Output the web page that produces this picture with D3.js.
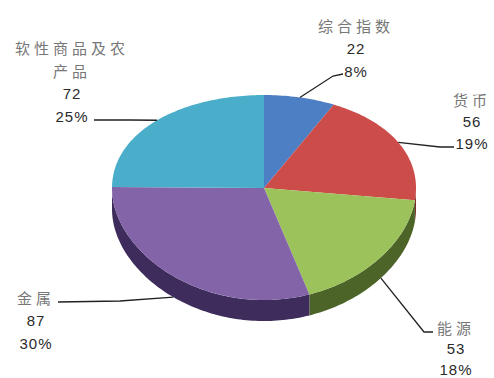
<!DOCTYPE html>
<html>
<head>
<meta charset="utf-8">
<script src="https://cdn.jsdelivr.net/npm/d3@7"></script>
<style>
  body { margin: 0; background: #fff; }
  svg { display: block; }
</style>
</head>
<body>
<div id="chart"></div>
<script>
// data
var categories = ["综合指数", "货币", "能源", "金属", "软性商品及农产品"];
var values = [22, 56, 53, 87, 72];
var percents = ["8%", "19%", "18%", "30%", "25%"];

var topColors = ["#4c7fc4", "#cc4c4a", "#9cc25b", "#8464a8", "#4aadc9"];
var sideColors = ["#2c4a78", "#7c2c2a", "#4d6428", "#3e2d5c", "#2a6a7c"];

var width = 494, height = 378;
var cx = 264, cy = 188, rx = 152, a = 101.6, k = 0.093, depth = 21;

var svg = d3.select("#chart").append("svg")
  .attr("width", width)
  .attr("height", height);

// projection of a pie angle (0 = 12 o'clock, clockwise) onto the tilted disc
function proj(t, dz) {
  var u = Math.sin(t), v = -Math.cos(t);
  return [cx + rx * u, cy + a * v / (1 - k * v) + (dz || 0)];
}

function arcPoints(a0, a1, dz) {
  var n = Math.max(2, Math.ceil((a1 - a0) / 0.02));
  return d3.range(n + 1).map(function(i) { return proj(a0 + (a1 - a0) * i / n, dz); });
}

var pie = d3.pie().sort(null).value(function(d) { return d; });
var arcs = pie(values);

var line = d3.line();

// side walls (only the front half is visible)
var g = svg.append("g");
arcs.forEach(function(d, i) {
  var s = Math.max(d.startAngle, Math.PI / 2), e = Math.min(d.endAngle, Math.PI * 1.5);
  if (e <= s) return;
  var top = arcPoints(s, e, 0), bot = arcPoints(s, e, depth).reverse();
  g.append("path")
    .attr("d", line(top.concat(bot)) + "Z")
    .attr("fill", sideColors[i]);
});

// top surface
arcs.forEach(function(d, i) {
  var pts = [[cx, cy]].concat(arcPoints(d.startAngle, d.endAngle, 0));
  g.append("path")
    .attr("d", line(pts) + "Z")
    .attr("fill", topColors[i]);
});

// label text: name, value, percent
var labelLines = categories.map(function(c, i) {
  var name = c.length > 6 ? [c.slice(0, 6), c.slice(6)] : [c];
  return name.concat([String(values[i]), percents[i]]);
});
var labelPos = [
  {x: 356, y: 25, dy: 23},
  {x: 472, y: 99, dy: 22},
  {x: 456, y: 327, dy: 21},
  {x: 36, y: 297, dy: 23},
  {x: 72, y: 47, dy: 23}
];
// where each leader leaves its label, and the elbow point
var leaderFrom = [
  [[343, 74], [333, 76]],
  [[454, 147], [440, 147]],
  [[433, 332], [424, 332]],
  [[58, 302], [120, 301]],
  [[94, 120], [130, 120]]
];

var lbl = svg.append("g");
labelLines.forEach(function(ls, i) {
  var p = labelPos[i];
  ls.forEach(function(t, j) {
    var cjk = /[\u4e00-\u9fff]/.test(t);
    lbl.append("text")
      .attr("x", p.x)
      .attr("y", p.y + j * p.dy)
      .attr("text-anchor", "middle")
      .attr("dominant-baseline", "central")
      .attr("font-family", cjk ? "'Noto Sans CJK SC', sans-serif" : "'Liberation Sans', Arial, sans-serif")
      .attr("font-size", 15)
      .attr("letter-spacing", cjk ? 4 : 1)
      .attr("fill", cjk ? "#777" : "#2a2a2a")
      .text(t);
  });
});

// leader lines to the slice mid angle
arcs.forEach(function(d, i) {
  var mid = (d.startAngle + d.endAngle) / 2;
  var front = -Math.cos(mid) > 0.3;
  var end = proj(mid, front ? depth : 0);
  lbl.append("path")
    .attr("d", line(leaderFrom[i].concat([end])))
    .attr("fill", "none")
    .attr("stroke", "#222")
    .attr("stroke-width", 1.3);
});
</script>
</body>
</html>
